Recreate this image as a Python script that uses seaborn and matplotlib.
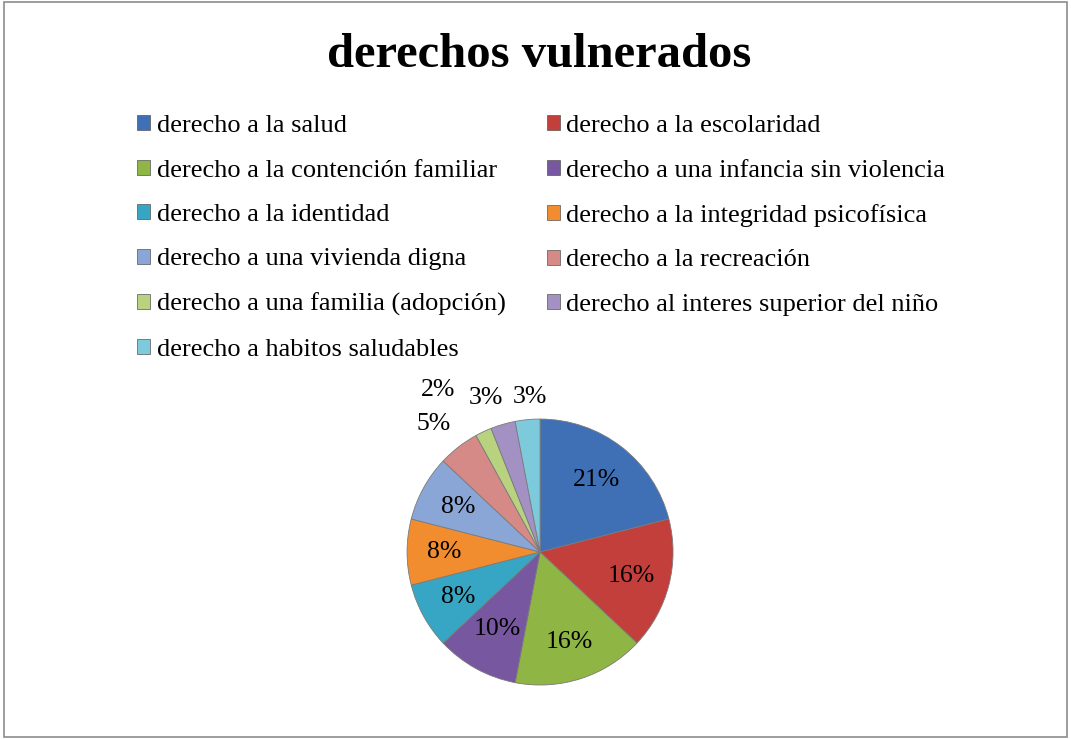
import matplotlib
matplotlib.use("Agg")
import matplotlib.pyplot as plt
import matplotlib.patches as mpatches
import seaborn as sns
import numpy as np

categorias = [
    "derecho a la salud",
    "derecho a la escolaridad",
    "derecho a la contención familiar",
    "derecho a una infancia sin violencia",
    "derecho a la identidad",
    "derecho a la integridad psicofísica",
    "derecho a una vivienda digna",
    "derecho a la recreación",
    "derecho a una familia (adopción)",
    "derecho al interes superior del niño",
    "derecho a habitos saludables",
]
porcentajes = [21, 16, 16, 10, 8, 8, 8, 5, 2, 3, 3]
colores = ["#3f70b5", "#c23f3c", "#8fb544", "#7757a0", "#37a6c4", "#f18d2f",
           "#8aa6d6", "#d68a88", "#b8d27f", "#a391c4", "#7ecadd"]
# label placement: distance from centre (radius units) and angular nudge (deg)
dist_etiqueta = [0.69, 0.71, 0.71, 0.66, 0.7, 0.72, 0.7, 1.25, 1.44, 1.23, 1.17]
giro_etiqueta = [0, 0, 0, 0, 0, 0, 0, 2, 7, 3, -1.7]

sns.set_theme(style="white")
plt.rcParams['font.family'] = ['Liberation Serif', 'DejaVu Serif']
plt.rcParams['text.color'] = 'black'

fig = plt.figure(figsize=(10.71, 7.39), dpi=100)
fig.patch.set_facecolor("white")
fig.patches.append(mpatches.Rectangle((0.004, 0.003), 0.992, 0.994, transform=fig.transFigure,
                                      fill=False, edgecolor="#8c8c8c", linewidth=1.2))

fig.text(0.503, 0.925, "derechos vulnerados", ha="center", va="center",
         fontsize=35, fontweight="bold", color="black")

ax = fig.add_axes([0.318, -0.017, 0.3725, 0.54])
wedges, _ = ax.pie(porcentajes, colors=colores, startangle=90, counterclock=False,
                   radius=1.0, wedgeprops=dict(edgecolor="#7a7a7a", linewidth=0.6))
ax.set_xlim(-1.5, 1.5)
ax.set_ylim(-1.5, 1.5)
ax.set_aspect("equal")
ax.axis("off")

for w, p, d, g in zip(wedges, porcentajes, dist_etiqueta, giro_etiqueta):
    ang = np.deg2rad((w.theta1 + w.theta2) / 2 + g)
    ax.text(d * np.cos(ang), d * np.sin(ang), f"{p}%", ha="center", va="center",
            fontsize=18.5, color="black", clip_on=False)

orden = [0, 2, 4, 6, 8, 10, 1, 3, 5, 7, 9]
handles = [mpatches.Patch(facecolor=colores[i], edgecolor="#555555", linewidth=0.5) for i in orden]
labels = [categorias[i] for i in orden]
fig.legend(handles, labels, ncol=2, loc="upper left", bbox_to_anchor=(0.1156, 0.862),
           frameon=False, fontsize=19, handlelength=0.5, handleheight=0.5,
           handletextpad=0.25, columnspacing=1.55, labelspacing=0.85, borderpad=0,
           labelcolor="black")

fig.savefig("out.png", dpi=100)
